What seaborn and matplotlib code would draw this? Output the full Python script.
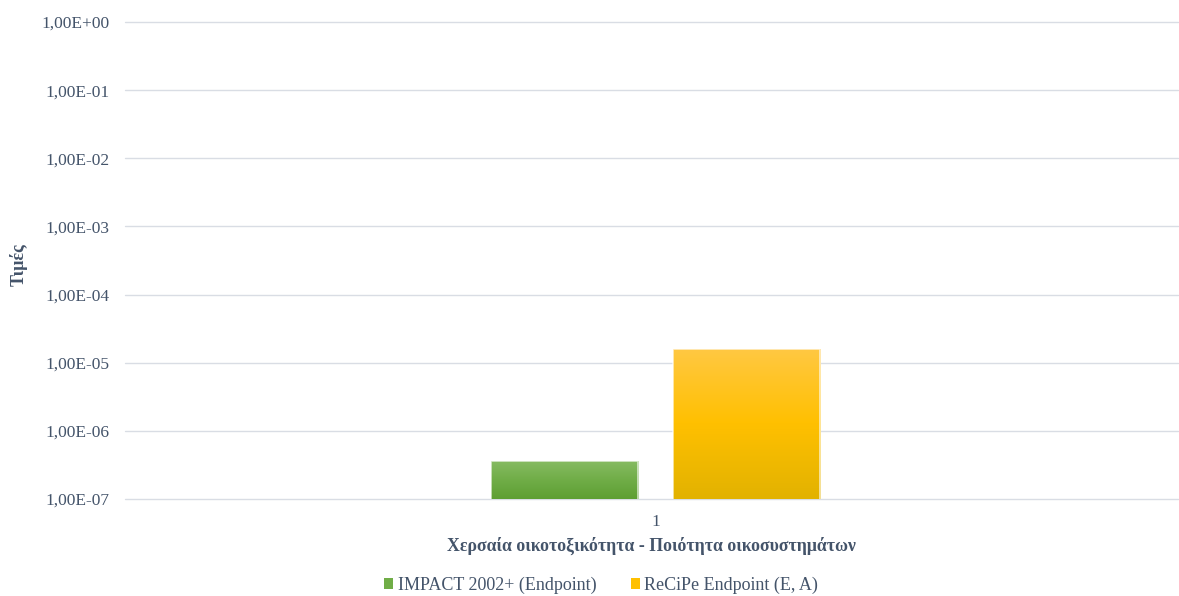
import numpy as np
import pandas as pd
import matplotlib
matplotlib.use("Agg")
import matplotlib.pyplot as plt
from matplotlib.ticker import FixedLocator, FuncFormatter, NullLocator
from matplotlib.colors import LinearSegmentedColormap
from matplotlib.patches import Patch
import seaborn as sns

# Data
categories = ["1"]
series = ["IMPACT 2002+ (Endpoint)", "ReCiPe Endpoint (E, A)"]
values = [3.55e-7, 1.60e-5]
x_title = "Χερσαία οικοτοξικότητα - Ποιότητα οικοσυστημάτων"
y_title = "Τιμές"

df = pd.DataFrame({"cat": categories * len(series), "series": series, "value": values})

sns.set_theme(style="white")
plt.rcParams["font.family"] = ["Liberation Serif", "DejaVu Serif"]
text_color = "#44546a"
grid_color = "#d9dde4"

# Vertical gradients for each series: top, middle, bottom
gradients = {
    series[0]: ["#86bb62", "#70ad47", "#5e9f33"],
    series[1]: ["#ffc843", "#ffc000", "#e2b200"],
}
base_colors = {s: g[1] for s, g in gradients.items()}

fig = plt.figure(figsize=(11.79, 5.96), dpi=100)
ax = fig.add_axes([0.106, 0.163, 0.893, 0.8])

sns.barplot(data=df, x="cat", y="value", hue="series", hue_order=series,
            palette=base_colors, width=0.346, gap=0.19, ax=ax,
            legend=False, log_scale=(False, True))

ax.set_yscale("log")
ax.set_ylim(1e-7, 1)
ax.set_xlim(-0.504, 0.496)

decades = [10.0 ** k for k in range(-7, 1)]
ax.yaxis.set_major_locator(FixedLocator(decades))
ax.yaxis.set_minor_locator(NullLocator())


def sci_comma(v, pos):
    exp = int(np.round(np.log10(v)))
    sign = "+" if exp >= 0 else "-"
    return f"1,00E{sign}{abs(exp):02d}"


ax.yaxis.set_major_formatter(FuncFormatter(sci_comma))
ax.grid(axis="y", color=grid_color, linewidth=1.0)
for gl in ax.yaxis.get_gridlines():
    gl.set_clip_on(False)
ax.set_axisbelow(True)
for s in ax.spines.values():
    s.set_visible(False)
ax.tick_params(axis="y", length=0, labelsize=12.5, labelcolor=text_color, pad=11)
ax.tick_params(axis="x", length=0, labelsize=12.5, labelcolor=text_color, pad=11)

ax.set_xlabel(x_title, fontsize=12.8, fontweight="bold", color=text_color, labelpad=5)
ax.set_ylabel("")
fig.text(19 / 1179, 1 - 265 / 596, y_title, rotation=90, ha="center", va="center",
         fontsize=13, fontweight="bold", color=text_color)

# Paint gradient fills clipped to each bar
fig.canvas.draw()
to_axes = ax.transData + ax.transAxes.inverted()
for patch, s in zip(ax.patches, series):
    x0, y0 = patch.get_x(), patch.get_y()
    w, h = patch.get_width(), patch.get_height()
    (ax0, ay0) = to_axes.transform((x0, max(y0, 1e-7)))
    (ax1, ay1) = to_axes.transform((x0 + w, y0 + h))
    cmap = LinearSegmentedColormap.from_list(s, gradients[s][::-1])
    grad = np.linspace(0, 1, 256).reshape(-1, 1)
    im = ax.imshow(grad, cmap=cmap, origin="lower", aspect="auto",
                   extent=[ax0, ax1, ay0, ay1], transform=ax.transAxes,
                   zorder=patch.get_zorder() + 0.1, interpolation="bilinear")
    im.set_clip_path(patch)
    patch.set_edgecolor((1, 1, 1, 0.7))
    patch.set_linewidth(1.2)
    patch.set_zorder(patch.get_zorder() + 0.2)
    patch.set_facecolor("none")

handles = [Patch(facecolor=base_colors[s], edgecolor="none") for s in series]
fig.legend(handles, series, loc="lower center", bbox_to_anchor=(0.510, -0.024),
           ncol=2, frameon=False, fontsize=13, handlelength=0.5, handleheight=0.5,
           handletextpad=0.25, columnspacing=1.9, labelcolor=text_color)

fig.savefig("out.png", dpi=100, facecolor="white")
